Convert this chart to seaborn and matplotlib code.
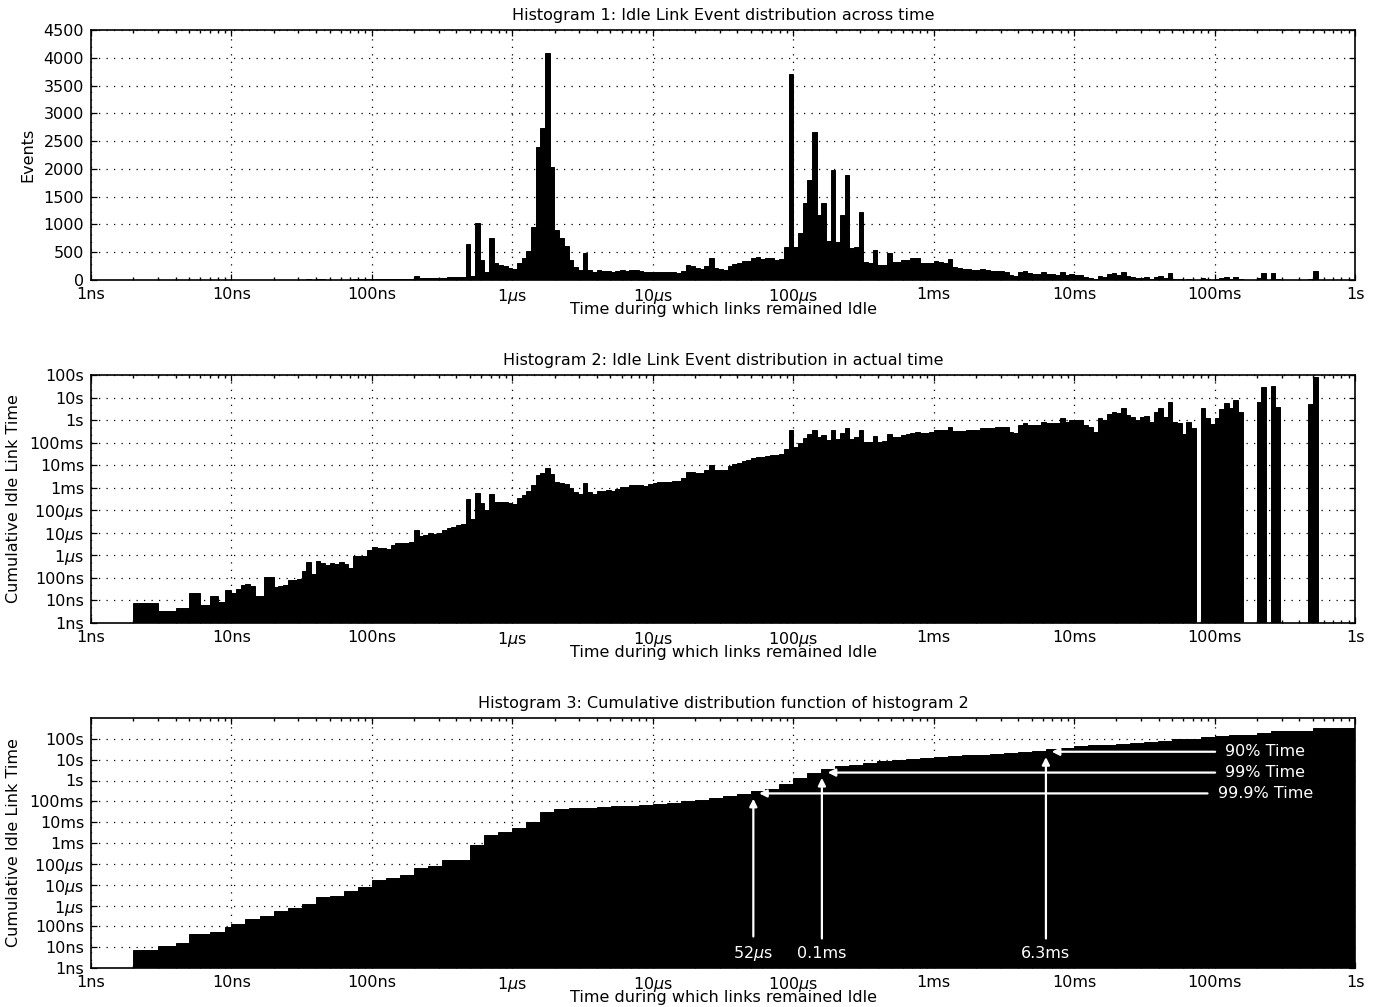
import numpy as np
import matplotlib
matplotlib.use("Agg")
import matplotlib.pyplot as plt
import seaborn as sns
from matplotlib.ticker import LogLocator, NullFormatter, NullLocator

# ---------------- data ----------------
# Histogram 1: number of idle-link events per bin.
# 1ns-10ns: integer-nanosecond bins [1,2) ... [9,10); above 10ns: 30 log bins per decade
events_1ns_10ns = [0, 3, 1, 1, 4, 1, 2, 1, 3]
events_10ns_100ns = [2, 3, 4, 4, 3, 1, 1, 6, 6, 2, 2, 2, 3, 3, 3, 6, 15, 4, 13, 10,
                     8, 9, 7, 8, 6, 4, 12, 11, 10, 18]
events_100ns_1us = [23, 19, 18, 15, 20, 23, 22, 20, 21, 64, 32, 33, 36, 31, 32, 40, 46, 47, 54, 53,
                    650, 80, 1020, 360, 150, 750, 300, 270, 250, 210]
events_1us_10us = [190, 300, 400, 520, 950, 2400, 2730, 4090, 2040, 900, 750, 610, 360, 240, 180,
                   480, 180, 140, 172, 159, 163, 137, 155, 176, 163, 185, 172, 159, 140, 151]
events_10us_100us = [151, 152, 152, 141, 140, 130, 163, 279, 259, 216, 200, 250, 400, 216, 200,
                     185, 258, 294, 301, 342, 351, 398, 408, 378, 388, 398, 369, 378, 600, 3700]
events_100us_1ms = [600, 840, 1380, 1800, 2670, 1170, 1380, 700, 1980, 690, 1170, 1890, 570, 600,
                    1230, 330, 300, 540, 270, 270, 480, 330, 330, 360, 360, 390, 390, 310, 310, 300]
events_1ms_10ms = [348, 323, 299, 376, 231, 214, 199, 204, 189, 175, 192, 178, 170, 169, 157,
                   145, 86, 70, 146, 161, 125, 116, 107, 139, 109, 101, 94, 145, 95, 104]
events_10ms_100ms = [97, 90, 50, 39, 22, 81, 61, 104, 122, 99, 148, 69, 54, 36, 45, 46, 24, 61,
                     80, 32, 135, 16, 13, 4, 13, 6, 0, 41, 14, 7]
events_100ms_1s = [12, 28, 46, 26, 55, 15, 0, 0, 0, 31, 135, 0, 124, 14, 0, 0, 0, 0, 0, 0,
                   11, 160, 0, 0, 0, 0, 0, 0, 0, 0]

# Histogram 3: cumulative idle link time (seconds); 10 log bins per decade above 10ns
cum_1ns_10ns = [0, 7.2e-9, 1.2e-8, 1.5e-8, 4.3e-8, 4.5e-8, 5.1e-8, 5.2e-8, 8.9e-8]
cum_10ns_100ns = [1.26e-7, 2.3e-7, 3.2e-7, 5.4e-7, 7.9e-7, 1.23e-6, 2.6e-6, 2.8e-6, 5.0e-6, 7.8e-6]
cum_100ns_1us = [1.66e-5, 2.0e-5, 2.9e-5, 6.5e-5, 8.0e-5, 1.5e-4, 1.6e-4, 8.0e-4, 2.5e-3, 3.5e-3]
cum_1us_10us = [5.0e-3, 1.0e-2, 3.2e-2, 4.3e-2, 4.7e-2, 5.0e-2, 5.4e-2, 5.8e-2, 6.3e-2, 6.8e-2]
cum_10us_100us = [7.6e-2, 8.5e-2, 0.10, 0.117, 0.14, 0.18, 0.22, 0.32, 0.38, 0.70]
cum_100us_1ms = [1.26, 2.2, 3.5, 4.8, 5.8, 7.1, 8.5, 9.8, 11.0, 12.3]
cum_1ms_10ms = [13.0, 14.5, 16.0, 17.4, 19.0, 21.4, 24.0, 27.0, 31.0, 36.0]
cum_10ms_100ms = [43, 48, 52, 59, 66, 72, 83, 93, 100, 126]
cum_100ms_1s = [141, 160, 160, 195, 233, 233, 233, 330, 330, 330]

time_tick_values = [1e-9, 1e-8, 1e-7, 1e-6, 1e-5, 1e-4, 1e-3, 1e-2, 1e-1, 1.0, 10.0, 100.0]
time_tick_labels = ['1ns', '10ns', '100ns', '1$\\mu$s', '10$\\mu$s', '100$\\mu$s',
                    '1ms', '10ms', '100ms', '1s', '10s', '100s']
event_ticks = [0, 500, 1000, 1500, 2000, 2500, 3000, 3500, 4000, 4500]

titles = ['Histogram 1: Idle Link Event distribution across time',
          'Histogram 2: Idle Link Event distribution in actual time',
          'Histogram 3: Cumulative distribution function of histogram 2']
x_label = 'Time during which links remained Idle'
y_labels = ['Events', 'Cumulative Idle Link Time', 'Cumulative Idle Link Time']

pct_labels = ['90% Time', '99% Time', '99.9% Time']
pct_levels = [24.0, 2.4, 0.24]            # cumulative idle time (s)
cut_labels = ['6.3ms', '0.1ms', '52$\\mu$s']
cut_times = [6.3e-3, 1.6e-4, 5.2e-5]      # idle duration (s)

# ---------------- style ----------------
sns.set_theme(style='ticks')
FS = 11.5
plt.rcParams.update({
    'font.family': ['DejaVu Sans'],
    'mathtext.fontset': 'dejavusans',
    'font.size': FS,
    'axes.titlesize': FS, 'axes.labelsize': FS,
    'xtick.labelsize': FS, 'ytick.labelsize': FS,
    'axes.edgecolor': 'black', 'axes.linewidth': 1.2,
    'axes.labelcolor': 'black', 'text.color': 'black',
    'xtick.color': 'black', 'ytick.color': 'black',
    'xtick.direction': 'in', 'ytick.direction': 'in',
    'xtick.top': True, 'ytick.right': True,
    'xtick.major.size': 4.5, 'ytick.major.size': 4.5,
    'xtick.minor.size': 2.2, 'ytick.minor.size': 2.2,
    'xtick.major.width': 0.9, 'ytick.major.width': 0.9,
    'xtick.major.pad': 5, 'ytick.major.pad': 5,
})


def build_edges(decade_lists):
    edges = list(np.arange(1, 10) * 1e-9)
    for exp, lst in zip(range(-8, 0), decade_lists):
        n = len(lst)
        edges += list(10.0 ** (exp + np.arange(n) / n))
    edges.append(1.0)
    return np.array(edges)


ev_decades = [events_10ns_100ns, events_100ns_1us, events_1us_10us, events_10us_100us,
              events_100us_1ms, events_1ms_10ms, events_10ms_100ms, events_100ms_1s]
ev_edges = build_edges(ev_decades)
ev_counts = np.array(events_1ns_10ns + sum(ev_decades, []), dtype=float)
ev_centers = 0.5 * (ev_edges[:-1] + ev_edges[1:])
idle_time = ev_counts * ev_centers

cum_decades = [cum_10ns_100ns, cum_100ns_1us, cum_1us_10us, cum_10us_100us,
               cum_100us_1ms, cum_1ms_10ms, cum_10ms_100ms, cum_100ms_1s]
cum_edges = build_edges(cum_decades)
cum_values = np.array(cum_1ns_10ns + sum(cum_decades, []), dtype=float)
cum_centers = 0.5 * (cum_edges[:-1] + cum_edges[1:])

fig = plt.figure(figsize=(13.8, 10.07), dpi=100)
W, H = 1380.0, 1007.0
left, right = 91 / W, 1355 / W
ax1 = fig.add_axes([left, 1 - 280 / H, right - left, 250 / H])
ax2 = fig.add_axes([left, 1 - 623 / H, right - left, 248 / H])
ax3 = fig.add_axes([left, 1 - 968 / H, right - left, 250 / H])

bar_kw = dict(log_scale=(True, False), color='black', edgecolor='black', linewidth=0.7,
              alpha=1.0, element='bars', fill=True, stat='count')
ev_bins = [float(v) for v in np.log10(ev_edges)]
cum_bins = [float(v) for v in np.log10(cum_edges)]
sns.histplot(x=ev_centers, weights=ev_counts, bins=ev_bins, ax=ax1, **bar_kw)
sns.histplot(x=ev_centers, weights=idle_time, bins=ev_bins, ax=ax2, **bar_kw)
sns.histplot(x=cum_centers, weights=cum_values, bins=cum_bins, ax=ax3, **bar_kw)

ax1.set_ylim(0, 4500)
ax1.set_yticks(event_ticks)
ax1.set_yticklabels([str(v) for v in event_ticks])

ax2.set_yscale('log')
ax2.set_ylim(1e-9, 1e2)
ax2.set_yticks(time_tick_values)
ax2.set_yticklabels(time_tick_labels)

ax3.set_yscale('log')
ax3.set_ylim(1e-9, 1e3)
ax3.set_yticks(time_tick_values)
ax3.set_yticklabels(time_tick_labels)

grid_ls = (0, (1, 5))
for ax, title, ylab in zip([ax1, ax2, ax3], titles, y_labels):
    ax.set_xscale('log')
    ax.set_xlim(1e-9, 1.0)
    ax.set_xticks(time_tick_values[:10])
    ax.set_xticklabels(time_tick_labels[:10])
    ax.xaxis.set_minor_locator(LogLocator(base=10, subs=np.arange(2, 10), numticks=100))
    ax.xaxis.set_minor_formatter(NullFormatter())
    if ax is not ax1:
        ax.yaxis.set_minor_locator(NullLocator())
    ax.tick_params(which='both', direction='in', top=True, right=True)
    ax.grid(True, which='major', color='black', linestyle=grid_ls, linewidth=0.9)
    ax.grid(False, which='minor')
    ax.set_title(title, pad=7)
    ax.set_xlabel(x_label, labelpad=-3)
    ax.set_ylabel(ylab, labelpad=6)
    for sp in ax.spines.values():
        sp.set_color('black')
        sp.set_linewidth(1.2)

# annotations on histogram 3
arrow_kw = dict(arrowstyle='-|>', color='white', lw=1.6, mutation_scale=11)
text_x = 0.23
label_y = 5e-9
for lbl, lvl, t in zip(pct_labels, pct_levels, cut_times):
    ax3.annotate(lbl, xy=(t * 1.1, lvl), xytext=(text_x, lvl), ha='center', va='center',
                 color='white', fontsize=FS, zorder=10,
                 arrowprops=dict(shrinkA=5, shrinkB=0, **arrow_kw))
for lbl, lvl, t in zip(cut_labels, pct_levels, cut_times):
    ax3.annotate(lbl, xy=(t, lvl / 1.8), xytext=(t, label_y), ha='center', va='center',
                 color='white', fontsize=FS, zorder=10,
                 arrowprops=dict(shrinkA=3, shrinkB=0, **arrow_kw))

fig.savefig('out.png', dpi=100)
